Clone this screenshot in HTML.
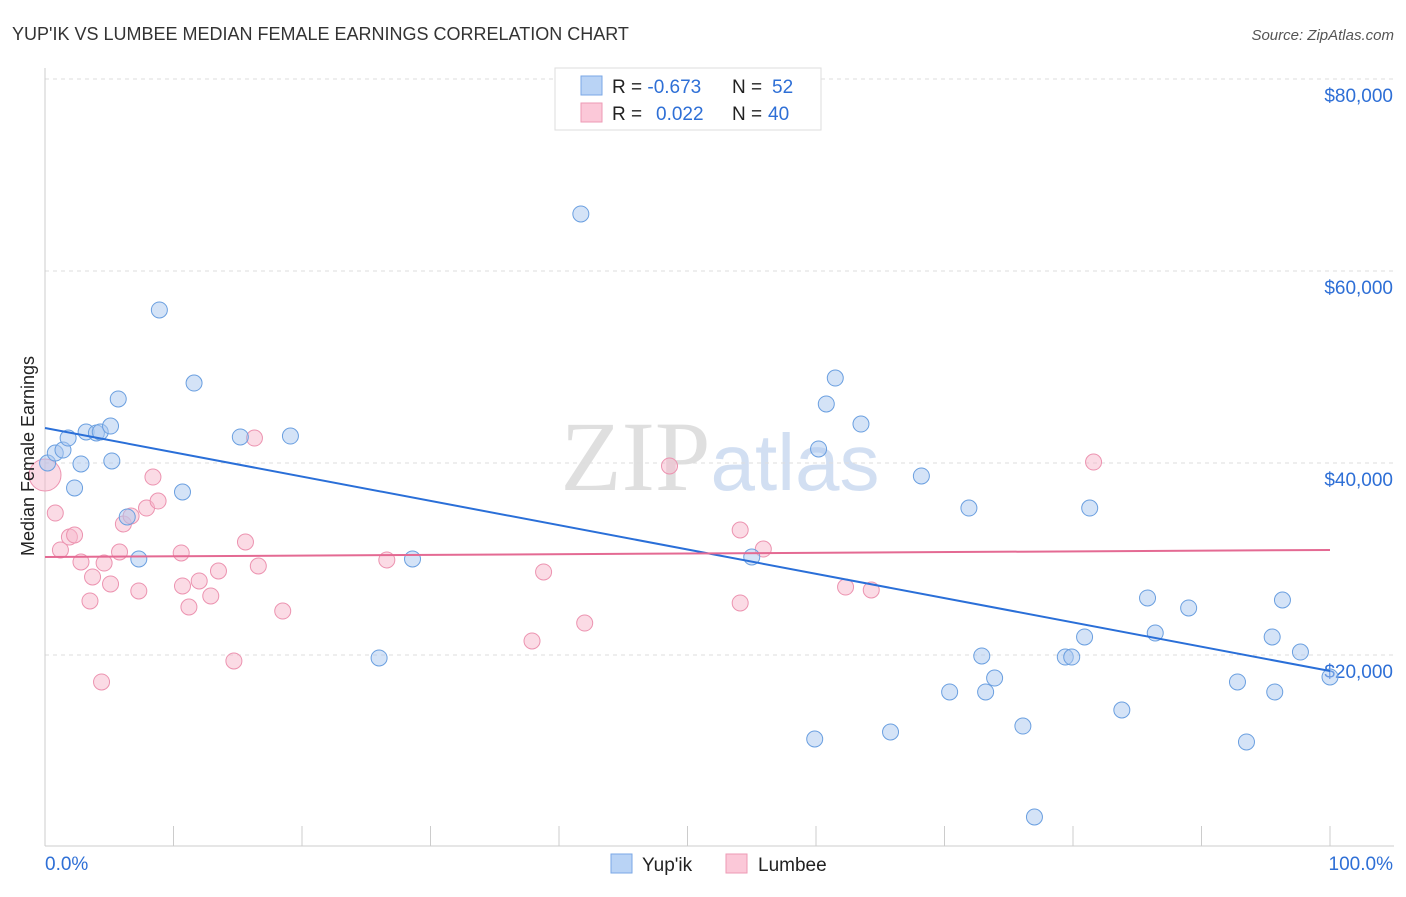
<!DOCTYPE html>
<html><head><meta charset="utf-8"><style>
body{margin:0;background:#fff;font-family:"Liberation Sans",sans-serif;}
svg text{font-family:"Liberation Sans",sans-serif;}
</style></head><body>
<svg id="chart" width="1406" height="892" xmlns="http://www.w3.org/2000/svg">
<text x="12" y="40" font-size="18" fill="#333">YUP'IK VS LUMBEE MEDIAN FEMALE EARNINGS CORRELATION CHART</text>
<text x="1394" y="40" font-size="15" fill="#555" text-anchor="end" font-style="italic">Source: ZipAtlas.com</text>
<text x="720" y="490" font-size="100" text-anchor="middle" fill="#ddd" opacity="0.8"><tspan font-family="Liberation Serif" fill="#d8d8d8">ZIP</tspan><tspan fill="#c8d8f0" font-size="80">atlas</tspan></text>
<g id="grid"></g>
<g id="axes"></g>
<g id="trend"></g>
<g id="pts"></g>
<text transform="translate(34,456) rotate(-90)" font-size="18" fill="#222" text-anchor="middle">Median Female Earnings</text>
<g>
<rect x="555" y="68" width="266" height="62" fill="#fff" stroke="#ddd"/>
<rect x="581" y="76" width="21" height="19" fill="#b9d3f5" stroke="#7aa7e6"/>
<rect x="581" y="103" width="21" height="19" fill="#fbc8d8" stroke="#ee9ab5"/>
<text x="612" y="93" font-size="19" fill="#222">R = <tspan fill="#2e6fd6">-0.673</tspan><tspan x="732">N = </tspan><tspan fill="#2e6fd6" x="772">52</tspan></text>
<text x="612" y="120" font-size="19" fill="#222">R = <tspan fill="#2e6fd6" x="656">0.022</tspan><tspan x="732">N = </tspan><tspan fill="#2e6fd6" x="768">40</tspan></text>
</g>
<g>
<rect x="611" y="854" width="21" height="19" fill="#b9d3f5" stroke="#7aa7e6"/>
<text x="642" y="871" font-size="19" fill="#222">Yup'ik</text>
<rect x="726" y="854" width="21" height="19" fill="#fbc8d8" stroke="#ee9ab5"/>
<text x="758" y="871" font-size="19" fill="#222">Lumbee</text>
</g>
</svg>
<script>
const yTicks=[20000,40000,60000,80000];
const yTickLabels=["$20,000","$40,000","$60,000","$80,000"];
const xTickLabels=["0.0%","100.0%"];
const yupikX=[0.2,0.8,1.4,1.8,2.3,2.8,3.2,4.0,4.3,5.1,5.2,5.7,6.4,7.3,8.9,10.7,11.6,15.2,19.1,26.0,28.6,41.7,55.0,59.9,60.2,60.8,61.5,63.5,65.8,68.2,70.4,71.9,72.9,73.2,73.9,76.1,77.0,79.4,79.9,80.9,81.3,83.8,85.8,86.4,89.0,92.8,93.5,95.5,95.7,96.3,97.7,100];
const yupikY=[40000,41040,41350,42600,37400,39900,43230,43130,43230,43850,40210,46670,34380,30000,55940,36980,48330,42710,42810,19690,30000,65940,30210,11250,41460,46150,48850,44060,11980,38650,16150,35310,19900,16150,17600,12600,3125,19790,19790,21880,35310,14270,25940,22290,24900,17190,10940,21880,16150,25730,20310,17710];
const lumbeeX=[0,0.8,1.2,1.9,2.3,2.8,3.5,3.7,4.4,4.6,5.1,5.8,6.1,6.7,7.3,7.9,8.4,8.8,10.6,10.7,11.2,12.0,12.9,13.5,14.7,15.6,16.3,16.6,18.5,26.6,37.9,38.8,42.0,48.6,54.1,54.1,55.9,62.3,64.3,81.6];
const lumbeeY=[38750,34790,30940,32290,32500,29690,25630,28130,17190,29580,27400,30730,33650,34480,26670,35310,38540,36040,30630,27190,25000,27710,26150,28750,19380,31770,42600,29270,24580,29900,21460,28650,23330,39690,33020,25420,31040,27080,26770,40100];
const yupikTrend=[43650,18330];
const lumbeeTrend=[30210,30940];
const NS="http://www.w3.org/2000/svg";
const X=v=>45+v*12.85;
const Y=v=>847-v/20000*192;
function mk(tag,attrs,parent){const e=document.createElementNS(NS,tag);for(const k in attrs)e.setAttribute(k,attrs[k]);parent.appendChild(e);return e;}
const grid=document.getElementById('grid'),axes=document.getElementById('axes'),trend=document.getElementById('trend'),pts=document.getElementById('pts');
yTicks.forEach((t,i)=>{
 const l=mk('line',{x1:45,x2:1394,y1:Y(t),y2:Y(t),stroke:'#ddd','stroke-dasharray':'4,4'},grid);
 
 
 const tx=mk('text',{x:1393,y:Y(t)+23,'font-size':19,fill:'#2e6fd6','text-anchor':'end'},axes);
 tx.textContent=yTickLabels[i];
 
 
});
const al=mk('line',{x1:45,x2:45,y1:68,y2:846,stroke:'#ccc'},axes);


const bl=mk('line',{x1:45,x2:1394,y1:846,y2:846,stroke:'#ccc'},axes);


for(let i=0;i<=10;i++){
 const tk=mk('line',{x1:X(i*10),x2:X(i*10),y1:826,y2:846,stroke:'#ccc'},axes);
 
 
}
[[0,'start',45],[100,'end',1393]].forEach((d,i)=>{
 const tx=mk('text',{x:d[2],y:870,'font-size':19,fill:'#2e6fd6','text-anchor':d[1]},axes);
 tx.textContent=xTickLabels[i];
 
 
});
function dots(xs,ys,fill,stroke,name){
 xs.forEach((x,i)=>{
  const c=mk('circle',{cx:X(x),cy:Y(ys[i]),r:(name==='lumbee-point'&&i===0)?16:8,fill:fill,'fill-opacity':0.5,stroke:stroke,'stroke-width':1},pts);
  
  
 });
}
dots(lumbeeX,lumbeeY,'#f8b8cc','#ec93b0','lumbee-point');
dots(yupikX,yupikY,'#a9c8f0','#6a9fe0','yupik-point');
const t1=mk('line',{x1:X(0),x2:X(100),y1:Y(yupikTrend[0]),y2:Y(yupikTrend[1]),stroke:'#2a6fd8','stroke-width':2},trend);


const t2=mk('line',{x1:X(0),x2:X(100),y1:Y(lumbeeTrend[0]),y2:Y(lumbeeTrend[1]),stroke:'#e46a93','stroke-width':2},trend);


document.getElementById('chart').appendChild(trend);
</script>
</body></html>
